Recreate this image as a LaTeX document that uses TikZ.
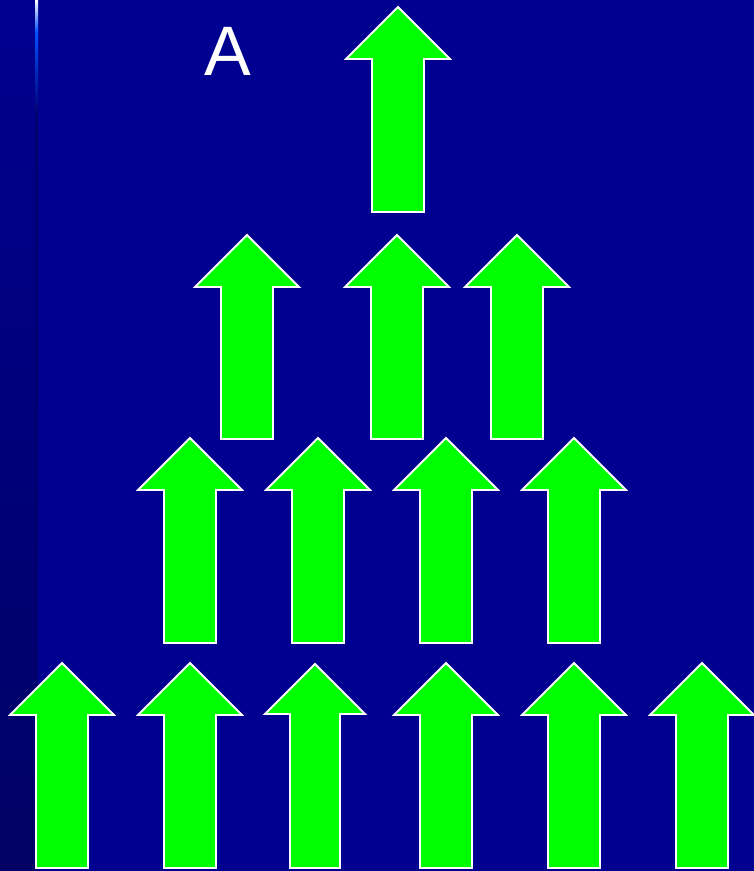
\documentclass[tikz,border=0pt]{standalone}
\usepackage{fontspec}
\setmainfont{Liberation Sans}
\usetikzlibrary{positioning}
\definecolor{slideblue}{RGB}{0,0,144}
\definecolor{stripblue}{RGB}{0,0,100}
\definecolor{linehi}{RGB}{0,80,255}
\definecolor{linedark}{RGB}{0,0,110}
\definecolor{arrowgreen}{RGB}{0,255,0}
\tikzset{
  uparr/.style={fill=arrowgreen, draw=white, line width=1.8pt, line join=miter},
  lbl/.style={text=white, font=\fontsize{70}{80}\selectfont, inner sep=0pt},
}
% up arrow: centre x, tip y, bottom y, half head width
\newcommand{\greenarr}[4]{%
  \draw[uparr] (#1,#2) -- ({#1+#4},{#2+#4}) -- ({#1+#4/2},{#2+#4}) -- ({#1+#4/2},#3)
    -- ({#1-#4/2},#3) -- ({#1-#4/2},{#2+#4}) -- ({#1-#4},{#2+#4}) -- cycle;}

\begin{document}
\begin{tikzpicture}[x=1pt, y=-1pt]

\fill[slideblue] (0,0) rectangle (754,871);
\useasboundingbox (0,0) rectangle (754,871);

% left strip
\shade[top color=slideblue, bottom color=stripblue] (0,0) rectangle (36,871);
\shade[top color=white, bottom color=linehi] (35,0) rectangle (38,32);
\shade[top color=linehi, bottom color=linedark] (35,32) rectangle (38,115);
\fill[linedark] (35,115) rectangle (38,871);

\node[lbl] (labelA) at (228,51) {A};

\foreach \cx/\tip/\bot/\hw in {398/7/212/52,
    247/235/439/52, 397/235/439/52, 517/235/439/52,
    190/438/643/52, 318/438/643/52, 446/438/643/52, 574/438/643/52,
    62/663/868/52, 190/663/868/52, 315/664/868/50, 446/663/868/52, 574/663/868/52, 702/663/868/52}
  {\greenarr{\cx}{\tip}{\bot}{\hw}}

\end{tikzpicture}
\end{document}
